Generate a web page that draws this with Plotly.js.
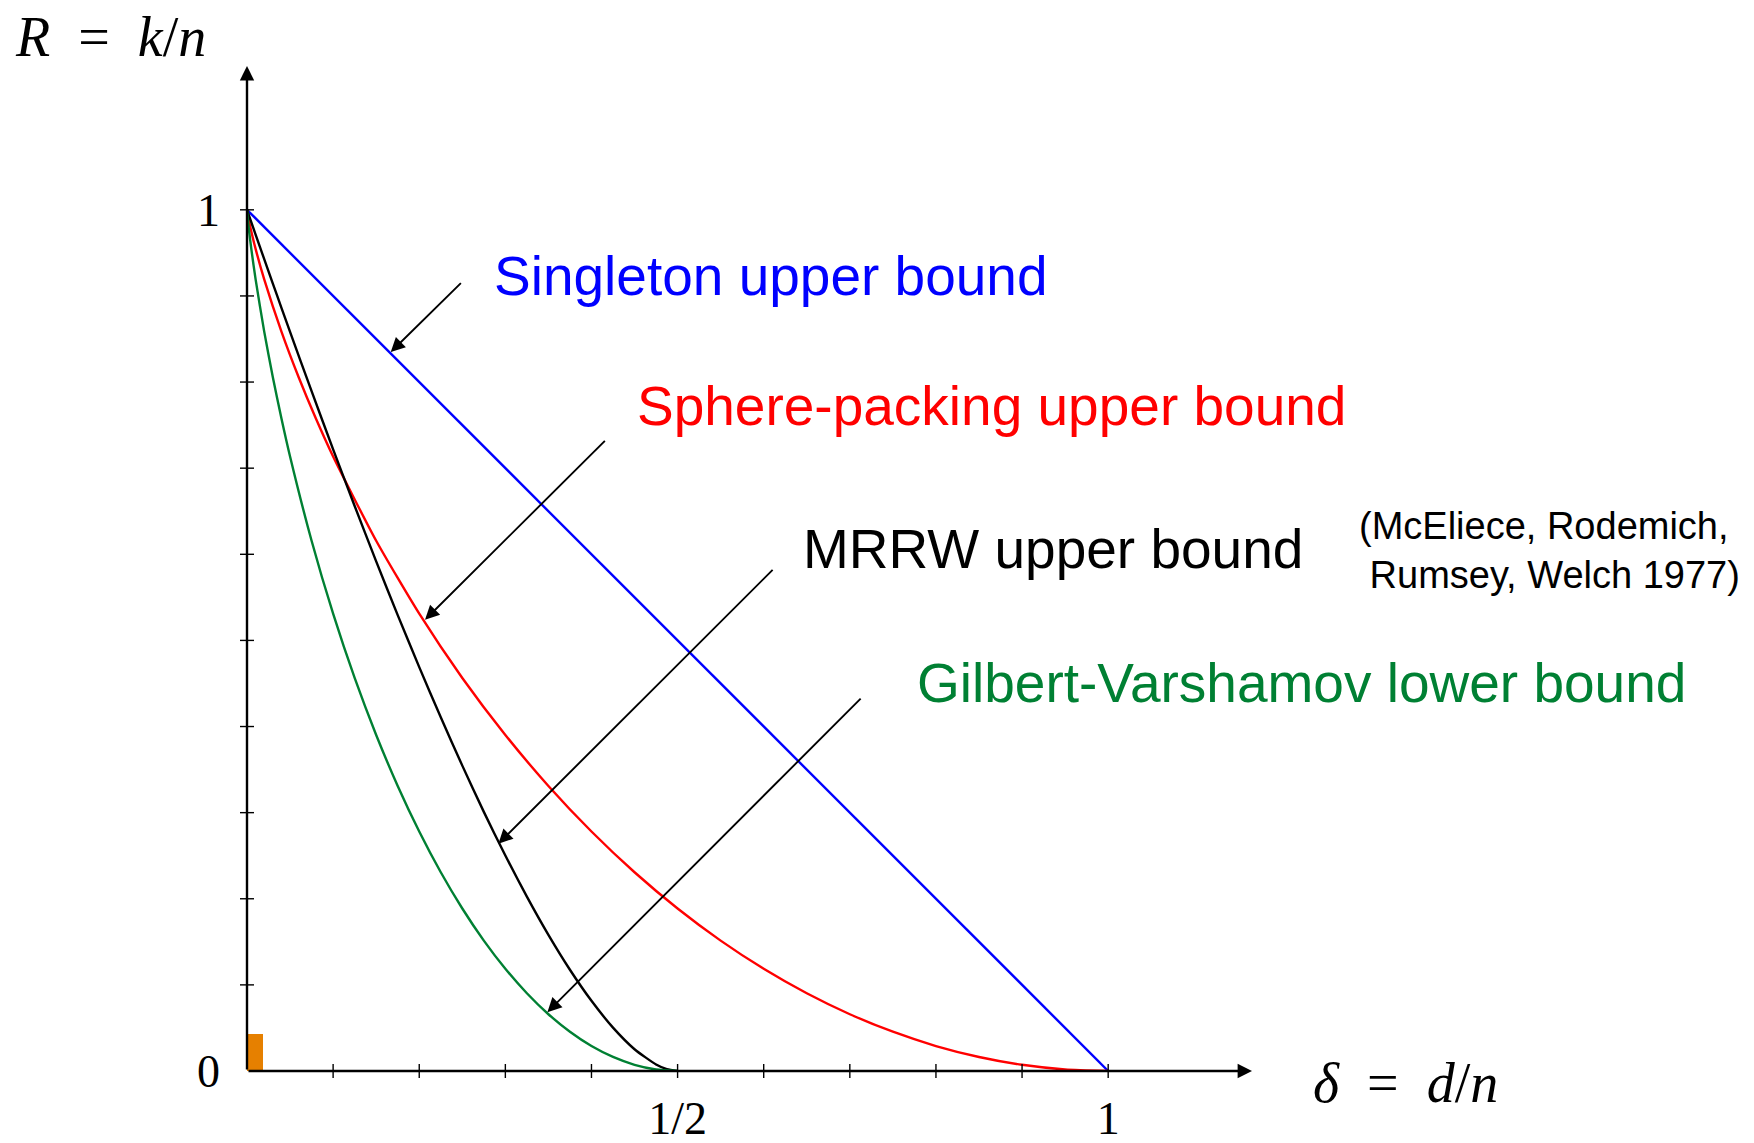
<!DOCTYPE html>
<html><head><meta charset="utf-8">
<script src="https://cdn.plot.ly/plotly-3.0.1.min.js"></script>
<style>html,body{margin:0;padding:0;background:#fff}</style>
</head><body><div id="chart" style="width:1754px;height:1143px"></div>
<script>
// ---- data ----
const singletonDelta = [0, 1];
const singletonRate  = [1, 0];

const spDelta = [0, 0.002, 0.005, 0.01, 0.02, 0.04, 0.06, 0.08, 0.1, 0.15, 0.2, 0.25, 0.3, 0.35, 0.4, 0.45, 0.5, 0.55, 0.6, 0.65, 0.7, 0.75, 0.8, 0.85, 0.9, 0.95, 1];
const spRate  = [1, 0.9886, 0.9748, 0.9546, 0.9192, 0.8586, 0.8056, 0.7577, 0.7136, 0.6157, 0.531, 0.4564, 0.3902, 0.331, 0.2781, 0.2308, 0.1887, 0.1514, 0.1187, 0.0903, 0.0659, 0.0456, 0.029, 0.0163, 0.0072, 0.0018, 0];

const mrrwDelta = [0, 0.01, 0.02, 0.03, 0.04, 0.05, 0.075, 0.1, 0.125, 0.15, 0.175, 0.2, 0.225, 0.25, 0.275, 0.3, 0.325, 0.35, 0.375, 0.4, 0.425, 0.45, 0.475, 0.4875, 0.5];
const mrrwRate  = [1, 0.9712, 0.9427, 0.9143, 0.8862, 0.8582, 0.7894, 0.7219, 0.6561, 0.5918, 0.5294, 0.469, 0.4107, 0.3546, 0.3009, 0.2502, 0.2025, 0.1581, 0.1176, 0.0815, 0.0504, 0.0253, 0.0076, 0.0022, 0];

const gvDelta = [0, 0.001, 0.0025, 0.005, 0.01, 0.02, 0.03, 0.04, 0.05, 0.075, 0.1, 0.125, 0.15, 0.175, 0.2, 0.225, 0.25, 0.275, 0.3, 0.325, 0.35, 0.375, 0.4, 0.425, 0.45, 0.475, 0.5];
const gvRate  = [1, 0.9886, 0.9748, 0.9546, 0.9192, 0.8586, 0.8056, 0.7577, 0.7136, 0.6157, 0.531, 0.4564, 0.3902, 0.331, 0.2781, 0.2308, 0.1887, 0.1514, 0.1187, 0.0903, 0.0659, 0.0456, 0.029, 0.0163, 0.0072, 0.0018, 0];

const markDelta = [0.0093];
const markRate  = [0.043];

const tickVals   = [0.1, 0.2, 0.3, 0.4, 0.5, 0.6, 0.7, 0.8, 0.9, 1.0];
const xLabelVals = [0.5, 1];
const xLabelText = ['1/2', '1'];
const yLabelVals = [0, 1];
const yLabelText = ['0', '1'];
const axisEnd = 1.167;

// ---- chart ----
const serif = 'Liberation Serif, DejaVu Serif, serif';
const sans = 'Liberation Sans, Arial, Helvetica, sans-serif';
const sp2 = '\u00A0\u00A0';

const traces = [
  {x: markDelta, y: markRate, type: 'bar', width: [0.0186], marker: {color: '#E68000', line: {width: 0}}, hoverinfo: 'skip'},
  {x: singletonDelta, y: singletonRate, mode: 'lines', line: {color: '#0000FF', width: 2.4}},
  {x: spDelta, y: spRate, mode: 'lines', line: {color: '#FF0000', width: 2.4, shape: 'spline', smoothing: 0.6}},
  {x: mrrwDelta, y: mrrwRate, mode: 'lines', line: {color: '#000000', width: 2.4, shape: 'spline', smoothing: 0.6}},
  {x: gvDelta, y: gvRate, mode: 'lines', line: {color: '#008033', width: 2.4, shape: 'spline', smoothing: 0.6}}
];

const shapes = [];
tickVals.forEach(v => {
  shapes.push({type: 'line', xref: 'x', yref: 'paper', x0: v, x1: v, ysizemode: 'pixel', yanchor: 0, y0: -7, y1: 7, line: {color: 'black', width: 1.4}});
  shapes.push({type: 'line', xref: 'paper', yref: 'y', y0: v, y1: v, xsizemode: 'pixel', xanchor: 0, x0: -7, x1: 7, line: {color: 'black', width: 1.4}});
});

function arrow(tipX, tipY, tailX, tailY) {
  return {x: tipX, y: tipY, ax: tailX, ay: tailY, xref: 'x', yref: 'y', axref: 'x', ayref: 'y',
    text: '', showarrow: true, arrowhead: 2, arrowsize: 1.5, arrowwidth: 1.9, arrowcolor: 'black', standoff: 0};
}
function label(x, y, text, color, size) {
  return {x: x, y: y, xref: 'x', yref: 'y', xanchor: 'left', yanchor: 'middle', align: 'left',
    text: text, showarrow: false, font: {family: sans, size: size, color: color}};
}

const annotations = [
  // axes with arrowheads
  {x: axisEnd, y: 0, ax: 0, ay: 0, xref: 'x', yref: 'y', axref: 'x', ayref: 'y', text: '', showarrow: true,
   arrowhead: 2, arrowsize: 1.2, arrowwidth: 2.4, arrowcolor: 'black', standoff: 0},
  {x: 0, y: axisEnd, ax: 0, ay: 0, xref: 'x', yref: 'y', axref: 'x', ayref: 'y', text: '', showarrow: true,
   arrowhead: 2, arrowsize: 1.2, arrowwidth: 2.4, arrowcolor: 'black', standoff: 0},
  // pointer arrows
  arrow(0.1669, 0.8348, 0.2501, 0.9166),
  arrow(0.2067, 0.5239, 0.4173, 0.7334),
  arrow(0.2919, 0.2639, 0.6121, 0.5836),
  arrow(0.3488, 0.0683, 0.7143, 0.4341),
  // labels
  label(0.2846, 0.9228, 'Singleton upper bound', '#0000FF', 55),
  label(0.4506, 0.7718, 'Sphere-packing upper bound', '#FF0000', 55),
  label(0.6434, 0.6057, 'MRRW upper bound', '#000000', 55),
  label(0.7759, 0.4501, 'Gilbert-Varshamov lower bound', '#008033', 55),
  {x: 1.1045, y: 0.5179, xref: 'paper', yref: 'paper', xanchor: 'left', yanchor: 'middle', align: 'left', showarrow: false,
   text: '(McEliece, Rodemich,<br>\u00A0Rumsey, Welch 1977)', font: {family: sans, size: 38, color: 'black'}},
  // axis titles
  {x: -0.2328, y: 1.0289, xref: 'paper', yref: 'paper', xanchor: 'left', yanchor: 'middle', showarrow: false,
   text: '<i>R</i>' + sp2 + '=' + sp2 + '<i>k</i>/<i>n</i>', font: {family: serif, size: 56, color: 'black'}},
  {x: 1.0587, y: -0.0119, xref: 'paper', yref: 'paper', xanchor: 'left', yanchor: 'middle', showarrow: false,
   text: '<i>δ</i>' + sp2 + '=' + sp2 + '<i>d</i>/<i>n</i>', font: {family: serif, size: 56, color: 'black'}}
];

const layout = {
  width: 1754, height: 1143,
  margin: {l: 247, r: 502, t: 66, b: 72},
  paper_bgcolor: 'white', plot_bgcolor: 'white',
  showlegend: false,
  xaxis: {range: [0, axisEnd], showgrid: false, zeroline: false, showline: false, ticks: '',
    tickmode: 'array', tickvals: xLabelVals, ticktext: xLabelText, ticklabelstandoff: 16,
    tickfont: {family: serif, size: 46, color: 'black'}},
  yaxis: {range: [0, axisEnd], showgrid: false, zeroline: false, showline: false, ticks: '',
    tickmode: 'array', tickvals: yLabelVals, ticktext: yLabelText, ticklabelstandoff: 26,
    tickfont: {family: serif, size: 46, color: 'black'}},
  shapes: shapes,
  annotations: annotations
};

Plotly.newPlot('chart', traces, layout, {staticPlot: true, displayModeBar: false});
</script></body></html>
